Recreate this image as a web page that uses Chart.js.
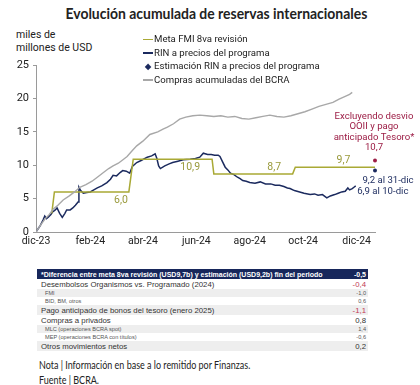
<!DOCTYPE html>
<html lang="es">
<head>
<meta charset="utf-8">
<script src="https://cdn.jsdelivr.net/npm/chart.js@4"></script>
<style>
  body { margin: 0; width: 420px; height: 385px; background: #fff; position: relative; overflow: hidden; font-family: Roboto, sans-serif; color: #222; }
  #titulo { position: absolute; top: 4px; left: 0; width: 432px; text-align: center; font-family: Lato, sans-serif; font-weight: 700; font-size: 15px; white-space: nowrap; }
  #titulo span, .fit { display: inline-block; white-space: nowrap; }
  #unidad { position: absolute; left: 16px; top: 28px; font-size: 10.5px; line-height: 13px; }
  #chart { position: absolute; left: 0; top: 0; }
  #leyenda { position: absolute; left: 143px; top: 32px; font-size: 9.6px; z-index: 2; }
  #leyenda div { height: 13.5px; line-height: 13.5px; white-space: nowrap; }
  #leyenda i { display: inline-block; width: 10px; height: 1.5px; vertical-align: middle; margin-right: 1px; }
  #leyenda b { display: inline-block; width: 10px; text-align: center; font-size: 8px; margin-right: 1px; }
  #tabla { position: absolute; left: 37px; top: 269px; width: 331px; border-collapse: collapse; font-family: "Liberation Sans", Arial, sans-serif; }
  #tabla td { padding: 0; white-space: nowrap; font-weight: 400; }
  #tabla td.v { text-align: right; padding-right: 2px; }
  #tabla tr.h { background: #17275b; color: #fff; font-size: 7px; height: 10px; }
  #tabla tr.h td { font-weight: 700; }
  #tabla tr.m { font-size: 7.8px; height: 10px; color: #333; }
  #tabla tr.s { font-size: 5.6px; height: 8px; color: #555; }
  #tabla tr.s td:first-child { padding-left: 8px; }
  #tabla tr td:first-child { padding-left: 4px; }
  #tabla tr.g { background: #eeeeee; }
  #notas { position: absolute; left: 39px; top: 358px; font-family: Lato, sans-serif; font-size: 10.5px; line-height: 14.5px; }
</style>
</head>
<body>
<div id="titulo"><span id="tituloTxt">Evolución acumulada de reservas internacionales</span></div>
<div id="unidad">miles de<br>millones de USD</div>
<canvas id="chart" width="420" height="258"></canvas>
<div id="leyenda"></div>
<table id="tabla"></table>
<div id="notas">
  <div><span class="fit" data-w="211">Nota | Información en base a lo remitido por Finanzas.</span></div>
  <div><span class="fit" data-w="60">Fuente | BCRA.</span></div>
</div>
<script>
// días desde el 10-dic-23
const tickDias = [0, 62, 122, 183, 244, 305, 366];
const tickEtiquetas = ['dic-23', 'feb-24', 'abr-24', 'jun-24', 'ago-24', 'oct-24', 'dic-24'];

const metaDias = [18, 21, 106, 111, 201, 203, 293, 296, 387];
const metaVals = [2.8, 6.0, 6.0, 10.9, 10.9, 8.7, 8.7, 9.7, 9.7];

const rinDias = [0, 3, 5, 8, 10, 12, 14, 17, 19, 22, 24, 27, 30, 33, 35, 39, 42, 45, 48, 49, 51, 54, 58, 62, 66, 70, 75, 81, 85, 88, 92, 96, 99, 103, 107, 110, 115, 120, 127, 132, 136, 138, 140, 142, 147, 152, 156, 162, 168, 176, 182, 187, 191, 196, 200, 204, 208, 210, 213, 216, 219, 222, 226, 230, 233, 236, 240, 244, 250, 256, 262, 268, 273, 278, 283, 287, 290, 295, 301, 306, 313, 318, 322, 327, 332, 336, 341, 345, 349, 353, 356, 358, 361, 363, 365];
const rinVals = [0, 0.6, 1.0, 1.8, 2.4, 2.0, 2.2, 2.6, 3.0, 3.3, 3.6, 2.8, 2.2, 2.8, 3.3, 3.3, 3.6, 4.0, 4.5, 6.7, 6.2, 5.8, 5.9, 6.0, 6.3, 6.6, 6.9, 7.4, 7.9, 8.5, 8.4, 8.9, 9.2, 9.1, 8.8, 9.8, 10.4, 10.7, 11.2, 11.4, 11.7, 11.0, 9.9, 9.5, 9.9, 10.2, 10.4, 10.6, 10.8, 10.9, 11.0, 11.2, 11.8, 11.6, 11.6, 11.5, 11.5, 11.3, 10.5, 9.7, 9.3, 8.8, 8.6, 8.2, 8.0, 7.7, 7.6, 7.4, 7.3, 7.5, 7.2, 7.2, 7.0, 7.0, 6.8, 6.6, 6.5, 6.2, 6.0, 5.8, 5.6, 5.7, 5.5, 5.6, 5.1, 5.4, 5.6, 5.8, 6.0, 6.1, 6.6, 6.3, 6.5, 6.7, 6.9];

const comprasDias = [0, 5, 10, 15, 20, 25, 31, 38, 44, 50, 57, 64, 70, 77, 83, 88, 94, 100, 104, 110, 115, 122, 130, 139, 145, 150, 157, 164, 171, 179, 187, 195, 203, 211, 219, 227, 235, 243, 251, 259, 267, 275, 283, 291, 299, 307, 315, 323, 331, 339, 346, 353, 358, 361];
const comprasVals = [0, 1.0, 1.9, 2.6, 3.5, 4.0, 4.8, 5.4, 6.0, 6.7, 7.1, 7.6, 8.2, 8.9, 9.5, 9.9, 10.3, 10.9, 11.3, 12.2, 12.9, 13.6, 14.6, 15.0, 15.4, 15.7, 16.2, 16.9, 17.2, 17.4, 17.5, 17.4, 17.3, 17.4, 17.2, 17.3, 17.0, 16.9, 17.1, 17.3, 17.5, 17.3, 17.2, 17.4, 17.7, 18.0, 18.4, 18.8, 19.1, 19.4, 19.9, 20.3, 20.6, 20.9];

const estimacionDia = [387];
const estimacionVal = [9.2];
const excluyendoDia = [387];
const excluyendoVal = [10.7];

const nombresSeries = ['Meta FMI 8va revisión', 'RIN a precios del programa', 'Estimación RIN a precios del programa', 'Compras acumuladas del BCRA'];

// etiquetas de la meta
const metaEtqDias = [97, 176, 272, 351];
const metaEtqVals = [6.0, 10.9, 8.7, 9.7];
const metaEtqTxt = ['6,0', '10,9', '8,7', '9,7'];

const tablaConceptos = ['*Diferencia entre meta 8va revisión (USD9,7b) y estimación (USD9,2b) fin del periodo', 'Desembolsos Organismos vs. Programado (2024)', 'FMI', 'BID, BM, otros', 'Pago anticipado de bonos del tesoro (enero 2025)', 'Compras a privados', 'MLC (operaciones BCRA spot)', 'MEP (operaciones BCRA con títulos)', 'Otros movimientos netos'];
const tablaValores = ['-0,5', '-0,4', '-1,0', '0,6', '-1,1', '0,8', '1,4', '-0,6', '0,2'];
const tablaNivel = ['h', 'm', 's', 's', 'm', 'm', 's', 's', 'm'];

const COL_META = '#a9a935';
const COL_META_TXT = '#9a9a3c';
const COL_RIN = '#1b2a5e';
const COL_COMPRAS = '#a8a8a8';
const COL_EXCL = '#9c1d45';

const pares = (xs, ys) => xs.map((x, i) => ({ x, y: ys[i] }));

// leyenda
const leyendaColores = [COL_META, COL_RIN, COL_RIN, COL_COMPRAS];
document.getElementById('leyenda').innerHTML = nombresSeries.map((n, i) =>
  i === 2
    ? `<div><b style="color:${COL_RIN}">◆</b>${n}</div>`
    : `<div><i style="background:${leyendaColores[i]}"></i>${n}</div>`
).join('');

// tabla
document.getElementById('tabla').innerHTML = tablaConceptos.map((c, i) => {
  const nivel = tablaNivel[i];
  const gris = [2, 4, 6, 8].includes(i) ? ' g' : '';
  const rojo = ['-0,4', '-1,1'].includes(tablaValores[i]) && nivel === 'm' ? ' style="color:#c23a55"' : '';
  return `<tr class="${nivel}${gris}"><td>${c}</td><td class="v"${rojo}>${tablaValores[i]}</td></tr>`;
}).join('');

const etiquetasPlugin = {
  id: 'etiquetas',
  afterDatasetsDraw(chart) {
    const { ctx, scales: { x, y } } = chart;
    ctx.save();
    ctx.textAlign = 'center';
    ctx.textBaseline = 'middle';
    ctx.font = '10.5px Roboto';
    ctx.fillStyle = COL_META_TXT;
    metaEtqTxt.forEach((t, i) => {
      const dy = i < 2 ? 8 : -7;
      ctx.fillText(t, x.getPixelForValue(metaEtqDias[i]), y.getPixelForValue(metaEtqVals[i]) + dy);
    });

    const ex = x.getPixelForValue(excluyendoDia[0]);
    const ey = y.getPixelForValue(excluyendoVal[0]);
    ctx.fillStyle = COL_EXCL;
    ctx.font = '9.6px Roboto';
    ['Excluyendo desvio', 'OOII y pago', 'anticipado Tesoro*', '10,7'].forEach((t, i, arr) => {
      ctx.fillText(t, ex - 1, ey - 13 - (arr.length - 1 - i) * 10.3);
    });

    ctx.fillStyle = COL_RIN;
    ctx.fillText('9,2 al 31-dic', x.getPixelForValue(estimacionDia[0]) + 13, y.getPixelForValue(estimacionVal[0]) + 10);
    ctx.textAlign = 'left';
    const last = rinDias.length - 1;
    ctx.fillText('6,9 al 10-dic', x.getPixelForValue(rinDias[last]) + 1.5, y.getPixelForValue(rinVals[last]) + 6);
    ctx.restore();
  }
};

new Chart(document.getElementById('chart'), {
  type: 'line',
  data: {
    datasets: [
      { label: nombresSeries[3], data: pares(comprasDias, comprasVals), borderColor: COL_COMPRAS, borderWidth: 1.4, pointRadius: 0, tension: 0 },
      { label: nombresSeries[0], data: pares(metaDias, metaVals), borderColor: COL_META, borderWidth: 1.5, pointRadius: 0, tension: 0, clip: false },
      { label: nombresSeries[1], data: pares(rinDias, rinVals), borderColor: COL_RIN, borderWidth: 1.5, pointRadius: 0, tension: 0 },
      { label: nombresSeries[2], data: pares(estimacionDia, estimacionVal), showLine: false, pointRadius: 2, pointBackgroundColor: COL_RIN, pointBorderWidth: 0, clip: false },
      { label: 'Excluyendo desvio', data: pares(excluyendoDia, excluyendoVal), showLine: false, pointRadius: 2, pointBackgroundColor: COL_EXCL, pointBorderWidth: 0, clip: false }
    ]
  },
  options: {
    responsive: false,
    animation: false,
    layout: { padding: { top: 65, right: 45, left: 0, bottom: 0 } },
    plugins: { legend: { display: false }, tooltip: { enabled: false } },
    scales: {
      x: {
        type: 'linear', min: 0, max: 387,
        afterBuildTicks: s => { s.ticks = tickDias.map(v => ({ value: v })); },
        afterFit: s => { s.height = 26; },
        ticks: { callback: v => tickEtiquetas[tickDias.indexOf(v)], font: { family: 'Roboto', size: 10.5 }, color: '#222', padding: 3, maxRotation: 0, autoSkip: false },
        grid: { display: false, drawTicks: false },
        border: { color: '#9a9a9a', width: 1 }
      },
      y: {
        min: 0, max: 25,
        afterFit: s => { s.width = 36; },
        ticks: { stepSize: 5, font: { family: 'Roboto', size: 11 }, color: '#222', padding: 4 },
        grid: { drawOnChartArea: false, tickLength: 3, color: '#9a9a9a' },
        border: { color: '#9a9a9a', width: 1 }
      }
    }
  },
  plugins: [etiquetasPlugin]
});

// ajustar anchos de textos con fuente estrecha
const t = document.getElementById('tituloTxt');
t.style.transform = `scaleX(${302 / t.offsetWidth})`;
document.querySelectorAll('.fit').forEach(el => {
  el.style.transformOrigin = 'left center';
  el.style.transform = `scaleX(${el.dataset.w / el.offsetWidth})`;
});
</script>
</body>
</html>
